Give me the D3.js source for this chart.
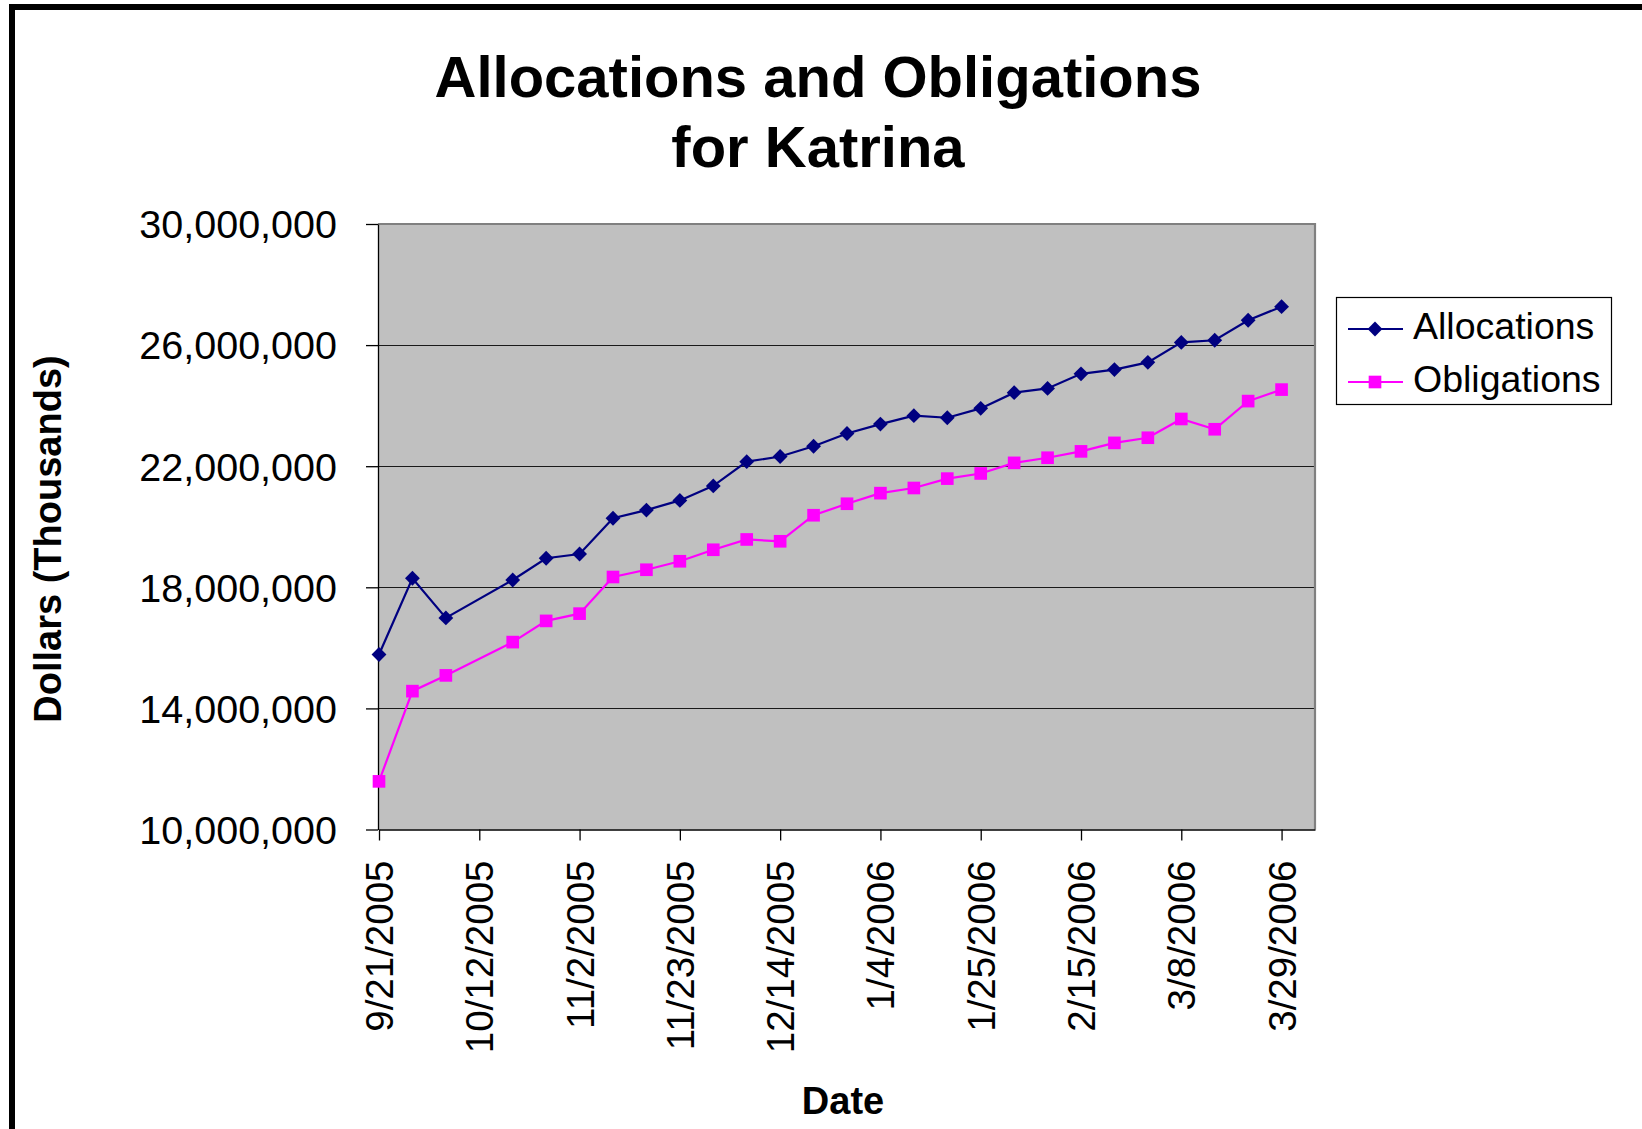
<!DOCTYPE html>
<html>
<head>
<meta charset="utf-8">
<script src="https://cdn.jsdelivr.net/npm/d3@7"></script>
<style>
  html, body { margin: 0; padding: 0; background: #fff; }
  svg { display: block; }
  text { font-family: "Liberation Sans", Arial, sans-serif; fill: #000; }
</style>
</head>
<body>
<svg id="chart" width="1642" height="1129"></svg>
<script>
// ---- data ----
const dates = [
  "2005-09-21","2005-09-28","2005-10-05","2005-10-19","2005-10-26","2005-11-02",
  "2005-11-09","2005-11-16","2005-11-23","2005-11-30","2005-12-07","2005-12-14",
  "2005-12-21","2005-12-28","2006-01-04","2006-01-11","2006-01-18","2006-01-25",
  "2006-02-01","2006-02-08","2006-02-15","2006-02-22","2006-03-01","2006-03-08",
  "2006-03-15","2006-03-22","2006-03-29"
];
const allocations = [
  15780000, 18300000, 16990000, 18240000, 18960000, 19100000,
  20280000, 20550000, 20870000, 21350000, 22150000, 22320000,
  22660000, 23080000, 23390000, 23670000, 23600000, 23910000,
  24430000, 24570000, 25050000, 25190000, 25430000, 26090000,
  26160000, 26820000, 27270000
];
const obligations = [
  11590000, 14570000, 15090000, 16190000, 16890000, 17130000,
  18340000, 18580000, 18860000, 19240000, 19580000, 19520000,
  20380000, 20760000, 21110000, 21280000, 21590000, 21760000,
  22110000, 22280000, 22490000, 22770000, 22940000, 23560000,
  23220000, 24150000, 24530000
];
const xTickLabels = ["9/21/2005","10/12/2005","11/2/2005","11/23/2005","12/14/2005",
  "1/4/2006","1/25/2006","2/15/2006","3/8/2006","3/29/2006"];
const yTicks = [10000000, 14000000, 18000000, 22000000, 26000000, 30000000];
const seriesNames = ["Allocations", "Obligations"];
const seriesColors = ["#000080", "#FF00FF"];
const titleLines = ["Allocations and Obligations", "for Katrina"];
const xAxisTitle = "Date";
const yAxisTitle = "Dollars (Thousands)";
const xDomain = ["2005-09-21", "2006-04-05"];

// ---- layout ----
const svg = d3.select("#chart");
const parse = d3.timeParse("%Y-%m-%d");
const tickParse = d3.timeParse("%m/%d/%Y");
const plot = { left: 378, right: 1315, top: 224, bottom: 829.5 };

const x = d3.scaleTime().domain(xDomain.map(parse)).range([plot.left + 1, plot.right]);
const y = d3.scaleLinear().domain([10000000, 30000000]).range([plot.bottom, plot.top]);

// outer frame
svg.append("rect").attr("x", 12).attr("y", 7).attr("width", 1700).attr("height", 1200)
  .attr("fill", "none").attr("stroke", "#000").attr("stroke-width", 6);

// title
const title = svg.append("text").attr("text-anchor", "middle")
  .style("font-weight", "bold").style("font-size", "58px");
titleLines.forEach((t, i) => {
  title.append("tspan").attr("x", 818).attr("y", 96.5 + i * 70).text(t);
});

// plot background
svg.append("rect").attr("x", plot.left).attr("y", plot.top)
  .attr("width", plot.right - plot.left).attr("height", plot.bottom - plot.top)
  .attr("fill", "#C0C0C0");

// gridlines
svg.append("g").selectAll("line").data(yTicks.filter(v => v > 10000000 && v < 30000000))
  .join("line")
  .attr("x1", plot.left).attr("x2", plot.right)
  .attr("y1", d => Math.round(y(d)) + 0.5).attr("y2", d => Math.round(y(d)) + 0.5)
  .attr("stroke", "#1a1a1a").attr("stroke-width", 1);

// plot border top / right
svg.append("path")
  .attr("d", `M${plot.left},${plot.top} H${plot.right} V${plot.bottom}`)
  .attr("fill", "none").attr("stroke", "#808080").attr("stroke-width", 2.2);

// y axis
const yAxis = d3.axisLeft(y).tickValues(yTicks).tickSize(12).tickSizeOuter(0).tickPadding(29)
  .tickFormat(d3.format(",.0f"));
const gy = svg.append("g").attr("transform", `translate(${plot.left},0)`).call(yAxis);
gy.select(".domain").attr("stroke", "#000").attr("stroke-width", 1.3);
gy.selectAll(".tick line").attr("stroke", "#000").attr("stroke-width", 1.3);
gy.selectAll(".tick text").style("font-size", "39.5px")
  .style("font-family", "'Liberation Sans', Arial, sans-serif").attr("fill", "#000")
  .attr("dy", "0.35em");

// x axis
const xTickDates = xTickLabels.map(tickParse);
const xAxis = d3.axisBottom(x).tickValues(xTickDates).tickSize(11).tickSizeOuter(0).tickPadding(0)
  .tickFormat((d, i) => xTickLabels[i]);
const gx = svg.append("g").attr("transform", `translate(0,${plot.bottom})`).call(xAxis);
gx.select(".domain").attr("stroke", "#000").attr("stroke-width", 1.6);
gx.selectAll(".tick line").attr("stroke", "#000").attr("stroke-width", 1.3);
gx.selectAll(".tick text")
  .style("font-size", "38.5px")
  .style("font-family", "'Liberation Sans', Arial, sans-serif").attr("fill", "#000")
  .attr("text-anchor", "end")
  .attr("transform", "translate(0,31) rotate(-90)")
  .attr("x", 0).attr("y", 0).attr("dy", "0.35em");

// axis titles
svg.append("text").attr("text-anchor", "middle")
  .style("font-weight", "bold").style("font-size", "38px")
  .attr("transform", "translate(61,539) rotate(-90)")
  .text(yAxisTitle);
svg.append("text").attr("text-anchor", "middle")
  .style("font-weight", "bold").style("font-size", "38px")
  .attr("x", 843).attr("y", 1114).text(xAxisTitle);

// series
const seriesData = [allocations, obligations];
const line = d3.line().x(d => x(d.date)).y(d => y(d.value));
const symbolTypes = [d3.symbolDiamond2, d3.symbolSquare];
const symbolSizes = [140, 160];

seriesData.forEach((vals, si) => {
  const pts = vals.map((v, i) => ({ date: parse(dates[i]), value: v }));
  svg.append("path").datum(pts).attr("d", line)
    .attr("fill", "none").attr("stroke", seriesColors[si]).attr("stroke-width", 2.2);
  svg.append("g").selectAll("path").data(pts).join("path")
    .attr("transform", d => `translate(${x(d.date)},${y(d.value)})`)
    .attr("d", d3.symbol().type(symbolTypes[si]).size(symbolSizes[si]))
    .attr("fill", seriesColors[si]);
});

// legend
const lg = svg.append("g");
lg.append("rect").attr("x", 1336.5).attr("y", 297.5).attr("width", 275).attr("height", 107)
  .attr("fill", "#fff").attr("stroke", "#000").attr("stroke-width", 1.2);
seriesNames.forEach((name, i) => {
  const cy = 329 + i * 53;
  lg.append("line").attr("x1", 1348).attr("x2", 1403).attr("y1", cy).attr("y2", cy)
    .attr("stroke", seriesColors[i]).attr("stroke-width", 2.2);
  lg.append("path").attr("transform", `translate(1375,${cy})`)
    .attr("d", d3.symbol().type(symbolTypes[i]).size(symbolSizes[i]))
    .attr("fill", seriesColors[i]);
  lg.append("text").attr("x", 1413).attr("y", cy + 9.5)
    .style("font-size", "37.5px").text(name);
});
</script>
</body>
</html>
